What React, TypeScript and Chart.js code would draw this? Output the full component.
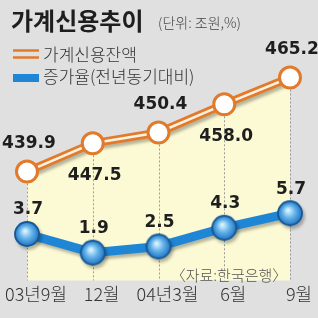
import React, { useEffect, useRef } from "react";
import { Chart, registerables } from "chart.js";

Chart.register(...registerables);

const categories = ["03년9월", "12월", "04년3월", "6월", "9월"];
const creditBalance = [439.9, 447.5, 450.4, 458.0, 465.2];
const growthRate = [3.7, 1.9, 2.5, 4.3, 5.7];
const titleText = "가계신용추이";
const unitText = "(단위: 조원,%)";
const legendBalance = "가계신용잔액";
const legendGrowth = "증가율(전년동기대비)";
const sourceText = "〈자료:한국은행〉";

const ORANGE = "#e27a2c";
const BLUE = "#1f86d6";
const BG = "#e0e0e0";
const YELLOW = "#fcfad4";
const KFONT = "'Noto Sans CJK KR', 'Noto Sans', sans-serif";
const NFONT = "'DejaVu Sans', sans-serif";

function makeBall(): HTMLCanvasElement {
  const c = document.createElement("canvas");
  c.width = 28;
  c.height = 28;
  const g = c.getContext("2d")!;
  const grad = g.createRadialGradient(12, 11, 1, 14, 14, 13);
  grad.addColorStop(0, "#d9f0fd");
  grad.addColorStop(0.45, "#62b2ea");
  grad.addColorStop(1, "#1a6cbd");
  g.beginPath();
  g.arc(14, 14, 12, 0, Math.PI * 2);
  g.fillStyle = grad;
  g.fill();
  g.lineWidth = 1.8;
  g.strokeStyle = "#155896";
  g.stroke();
  return c;
}

const decorPlugin = {
  id: "decor",
  beforeDraw(chart: any) {
    const ctx = chart.ctx;
    ctx.save();
    ctx.fillStyle = BG;
    ctx.fillRect(0, 0, chart.width, chart.height);
    ctx.restore();
  },
  beforeDatasetsDraw(chart: any) {
    const ctx = chart.ctx;
    const area = chart.chartArea;
    const pts = chart.getDatasetMeta(0).data;
    ctx.save();
    ctx.beginPath();
    ctx.moveTo(pts[0].x, area.bottom);
    pts.forEach((p: any) => ctx.lineTo(p.x, p.y));
    ctx.lineTo(pts[pts.length - 1].x, area.bottom);
    ctx.closePath();
    ctx.fillStyle = YELLOW;
    ctx.fill();
    ctx.strokeStyle = "#9a9a9a";
    ctx.lineWidth = 1;
    ctx.setLineDash([2, 2]);
    pts.forEach((p: any) => {
      ctx.beginPath();
      ctx.moveTo(Math.round(p.x) + 0.5, p.y);
      ctx.lineTo(Math.round(p.x) + 0.5, area.bottom);
      ctx.stroke();
    });
    ctx.restore();
  },
  beforeDatasetDraw(chart: any, args: any) {
    if (args.index === 0 || args.index === 2) {
      const ctx = chart.ctx;
      ctx.save();
      ctx.shadowColor = "rgba(0,0,0,0.28)";
      ctx.shadowBlur = 3;
      ctx.shadowOffsetX = 2;
      ctx.shadowOffsetY = 3;
    }
  },
  afterDatasetDraw(chart: any, args: any) {
    if (args.index === 0 || args.index === 2) chart.ctx.restore();
  },
  afterDraw(chart: any) {
    const ctx = chart.ctx;
    ctx.save();
    ctx.textBaseline = "middle";
    ctx.textAlign = "left";
    ctx.fillStyle = "#1e1e1e";
    ctx.font = `bold 24px ${KFONT}`;
    ctx.fillText(titleText, 11, 21);
    ctx.fillStyle = "#444";
    ctx.font = `300 14px ${KFONT}`;
    ctx.fillText(unitText, 158, 23);
    // legend
    ctx.strokeStyle = ORANGE;
    ctx.lineWidth = 2.5;
    [50.5, 57.5].forEach((y) => {
      ctx.beginPath();
      ctx.moveTo(13, y);
      ctx.lineTo(39, y);
      ctx.stroke();
    });
    ctx.fillStyle = BLUE;
    ctx.fillRect(13, 74, 26, 8);
    ctx.fillStyle = "#333";
    ctx.font = `300 17px ${KFONT}`;
    ctx.fillText(legendBalance, 43, 55);
    ctx.fillText(legendGrowth, 43, 77);
    // value labels
    ctx.textAlign = "center";
    ctx.fillStyle = "#1e1e1e";
    ctx.font = `bold 17px ${NFONT}`;
    const m0 = chart.getDatasetMeta(1).data;
    creditBalance.forEach((v, i) => {
      const p = m0[i];
      const dy = i % 2 === 0 ? -28 : 32;
      ctx.fillText(v.toFixed(1), p.x + 2, p.y + dy);
    });
    const m2 = chart.getDatasetMeta(2).data;
    growthRate.forEach((v, i) => {
      const p = m2[i];
      ctx.fillText(v.toFixed(1), p.x + 1, p.y - 24);
    });
    ctx.fillStyle = "#555";
    ctx.font = `300 15px ${KFONT}`;
    ctx.fillText(sourceText, 229, 275);
    ctx.restore();
  },
};

export default function App() {
  const ref = useRef<HTMLCanvasElement>(null);
  useEffect(() => {
    if (!ref.current) return;
    const ball = makeBall();
    const chart = new Chart(ref.current, {
      type: "line",
      data: {
        labels: categories,
        datasets: [
          {
            label: legendBalance,
            data: creditBalance,
            yAxisID: "y",
            borderColor: ORANGE,
            borderWidth: 8,
            pointRadius: 0,
            fill: false,
            order: 4,
          },
          {
            label: legendBalance + "-inner",
            data: creditBalance,
            yAxisID: "y",
            borderColor: "#fdf1df",
            borderWidth: 2.5,
            pointRadius: 10.5,
            pointBackgroundColor: "#ffffff",
            pointBorderColor: ORANGE,
            pointBorderWidth: 3,
            fill: false,
            order: 3,
          },
          {
            label: legendGrowth,
            data: growthRate,
            yAxisID: "y2",
            borderColor: BLUE,
            borderWidth: 9,
            pointStyle: ball as any,
            pointRadius: 13,
            fill: false,
            order: 1,
          },
        ],
      },
      options: {
        responsive: false,
        animation: false,
        layout: { padding: { left: 27, right: 28, top: 40, bottom: 10 } },
        plugins: {
          legend: { display: false },
          tooltip: { enabled: false },
          title: { display: false },
        },
        scales: {
          x: {
            type: "category",
            offset: false,
            grid: { display: false, drawTicks: false },
            border: { display: false },
            ticks: {
              color: "#333",
              font: { family: KFONT, size: 18, weight: "300" },
              padding: 3,
              labelOffset: 9,
              maxRotation: 0,
              autoSkip: false,
            },
            afterFit: (s: any) => {
              s.paddingLeft = 0;
              s.paddingRight = 0;
            },
          },
          y: { display: false, min: 410.6, max: 475.3 },
          y2: { display: false, min: -0.77, max: 22.38 },
        },
      },
      plugins: [decorPlugin],
    });
    return () => chart.destroy();
  }, []);
  return (
    <div style={{ position: "absolute", left: 0, top: 0, width: 318, height: 318 }}>
      <canvas ref={ref} width={318} height={318} />
    </div>
  );
}
